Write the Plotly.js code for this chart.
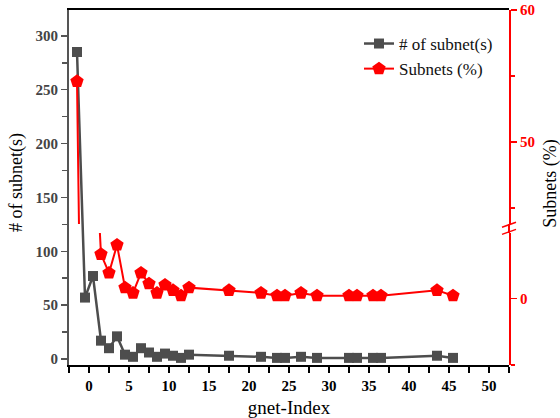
<!DOCTYPE html>
<html>
<head>
<meta charset="utf-8">
<script src="https://cdn.plot.ly/plotly-3.0.1.min.js"></script>
<style>html,body{margin:0;padding:0;background:#fff;}#chart{width:560px;height:418px;}</style>
</head>
<body>
<div id="chart"></div>
<script>
// gnet-Index positions
var gnetIndex = [-1.5,-0.5,0.5,1.5,2.5,3.5,4.5,5.5,6.5,7.5,8.5,9.5,10.5,11.5,12.5,17.5,21.5,23.5,24.5,26.5,28.5,32.5,33.5,35.5,36.5,43.5,45.5];
// number of subnets (left axis)
var subnetCount = [285,57,77,17,10,21,4,2,10,6,2,5,3,1,4,3,2,1,1,2,1,1,1,1,1,3,1];
// subnets percentage (right, broken axis)
var subnetPct = [54.6,10.9,14.8,3.3,1.9,4.0,0.8,0.4,1.9,1.1,0.4,1.0,0.6,0.2,0.8,0.6,0.4,0.2,0.2,0.4,0.2,0.2,0.2,0.2,0.2,0.6,0.2];

var leftTicks = [0,50,100,150,200,250,300];

var FONT = 'Liberation Serif';
var GRAY = '#4d4d4d';
var RED = '#ff0000';

var traces = [
  {
    x: gnetIndex, y: subnetCount, xaxis: 'x', yaxis: 'y',
    type: 'scatter', mode: 'lines+markers', name: '# of subnet(s)',
    line: {color: GRAY, width: 2.5},
    marker: {symbol: 'square', size: 10, color: GRAY},
    cliponaxis: true
  },
  {
    x: gnetIndex, y: subnetPct, xaxis: 'x', yaxis: 'y3',
    type: 'scatter', mode: 'lines+markers', name: 'Subnets (%)',
    line: {color: RED, width: 2},
    marker: {symbol: 'pentagon', size: 14, color: RED},
    cliponaxis: true
  },
  {
    x: gnetIndex, y: subnetPct, xaxis: 'x', yaxis: 'y2',
    type: 'scatter', mode: 'lines+markers', name: 'Subnets (%)',
    showlegend: false,
    line: {color: RED, width: 2},
    marker: {symbol: 'pentagon', size: 14, color: RED},
    cliponaxis: true
  }
];

var rightAxisCommon = {
  anchor: 'x', side: 'right',
  tick0: 0, dtick: 10,
  ticks: 'outside', ticklen: 6, tickwidth: 1.5, tickcolor: RED,
  minor: {dtick: 5, ticks: 'outside', ticklen: 4, tickwidth: 1.5, tickcolor: RED},
  showline: true, linecolor: RED, linewidth: 2,
  showgrid: false, zeroline: false,
  tickfont: {family: FONT, size: 15, color: RED, weight: 'bold'},
  fixedrange: true
};

var layout = {
  width: 560, height: 418,
  margin: {l: 69, r: 51, t: 10, b: 53},
  paper_bgcolor: '#fff',
  plot_bgcolor: 'rgba(0,0,0,0)',
  font: {family: FONT, color: '#000'},
  showlegend: true,
  legend: {
    x: 0.975, xanchor: 'right', y: 0.955, yanchor: 'top',
    bgcolor: 'rgba(0,0,0,0)', borderwidth: 0,
    font: {family: FONT, size: 17, color: '#111'},
    tracegroupgap: 0
  },
  xaxis: {
    range: [-2.5, 52.5], tick0: 0, dtick: 5,
    ticks: 'outside', ticklen: 6, tickwidth: 1.5, tickcolor: '#000',
    minor: {dtick: 2.5, ticks: 'outside', ticklen: 6, tickwidth: 1.5, tickcolor: '#000'},
    showline: true, linecolor: '#000', linewidth: 2, mirror: true,
    showgrid: false, zeroline: false,
    tickfont: {family: FONT, size: 15, color: '#000', weight: 'bold'},
    title: {text: 'gnet-Index', font: {family: FONT, size: 19, color: '#000'}, standoff: 12},
    anchor: 'y'
  },
  yaxis: {
    domain: [0, 1],
    range: [-5.6, 324],
    tickvals: leftTicks,
    ticktext: leftTicks.map(String),
    ticks: 'outside', ticklen: 6, tickwidth: 1.5, tickcolor: '#555',
    minor: {dtick: 25, tick0: 0, ticks: 'outside', ticklen: 5, tickwidth: 1.5, tickcolor: '#555'},
    showline: true, linecolor: '#555', linewidth: 2,
    showgrid: false, zeroline: false,
    tickfont: {family: FONT, size: 15, color: '#444', weight: 'bold'},
    anchor: 'x'
  },
  yaxis2: Object.assign({}, rightAxisCommon, {domain: [0, 0.372], range: [-5, 4.9]}),
  yaxis3: Object.assign({}, rightAxisCommon, {domain: [0.397, 1], range: [43.8, 60]}),
  annotations: [
    {xref: 'paper', yref: 'paper', x: -0.118, y: 0.513, xanchor: 'center', yanchor: 'middle',
     text: '# of subnet(s)', textangle: -90, showarrow: false,
     font: {family: FONT, size: 18, color: '#000'}},
    {xref: 'paper', yref: 'paper', x: 1.095, y: 0.513, xanchor: 'center', yanchor: 'middle',
     text: 'Subnets (%)', textangle: -90, showarrow: false,
     font: {family: FONT, size: 18, color: '#000'}}
  ],
  shapes: [
    // connect the red axis across the break
    {type: 'line', xref: 'paper', yref: 'paper', x0: 1, x1: 1, y0: 0.372, y1: 0.397,
     line: {color: RED, width: 2}},
    // axis break marks
    {type: 'line', xref: 'paper', yref: 'paper', xsizemode: 'pixel', xanchor: 1,
     ysizemode: 'pixel', yanchor: 0.395, x0: -7, x1: 7, y0: -2.5, y1: 2.5,
     line: {color: RED, width: 1.5}},
    {type: 'line', xref: 'paper', yref: 'paper', xsizemode: 'pixel', xanchor: 1,
     ysizemode: 'pixel', yanchor: 0.375, x0: -7, x1: 7, y0: -2.5, y1: 2.5,
     line: {color: RED, width: 1.5}}
  ]
};

Plotly.newPlot('chart', traces, layout, {displayModeBar: false, staticPlot: true});
</script>
</body>
</html>
